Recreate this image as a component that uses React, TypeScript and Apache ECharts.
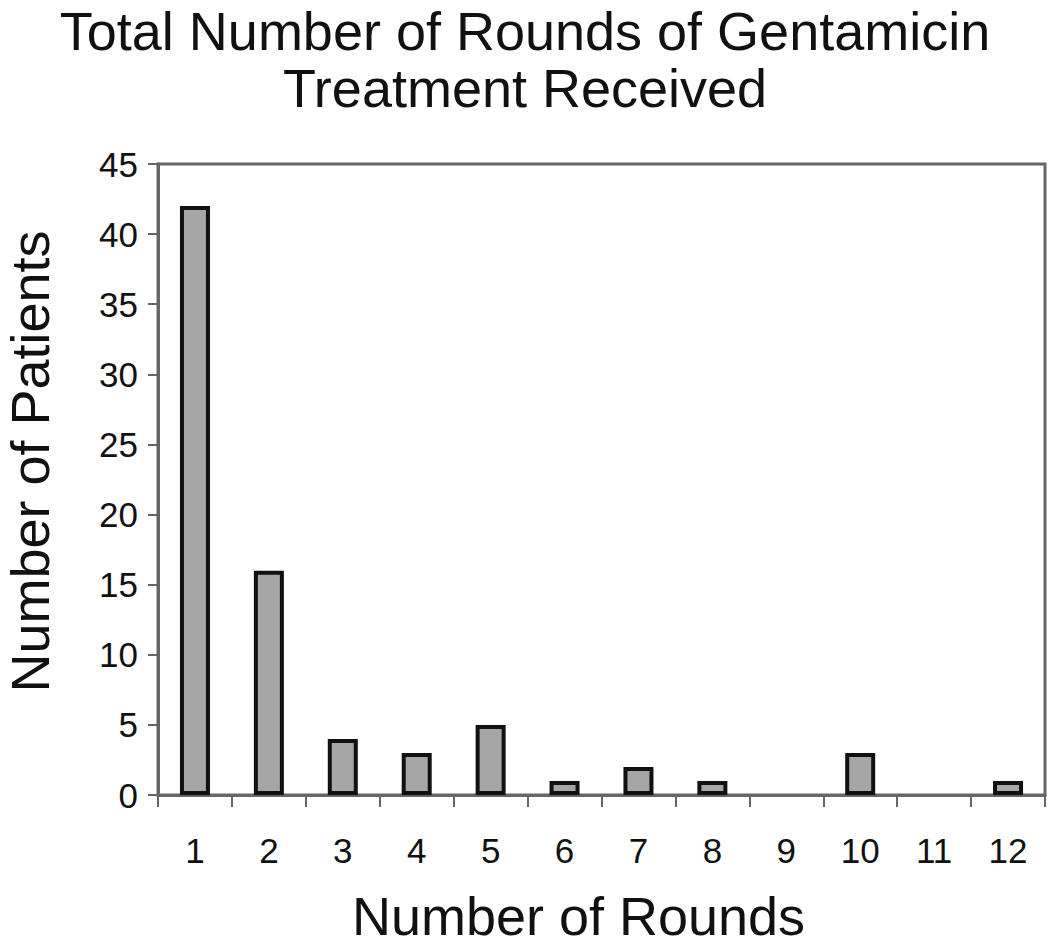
import React, { useEffect, useRef } from "react";
import * as echarts from "echarts";

const categories = ["1", "2", "3", "4", "5", "6", "7", "8", "9", "10", "11", "12"];
const patients = [42, 16, 4, 3, 5, 1, 2, 1, 0, 3, 0, 1];
const titleLines = ["Total Number of Rounds of Gentamicin", "Treatment Received"];
const xAxisTitle = "Number of Rounds";
const yAxisTitle = "Number of Patients";

export default function App() {
  const ref = useRef<HTMLDivElement>(null);
  useEffect(() => {
    if (!ref.current) return;
    const chart = echarts.init(ref.current, null, { renderer: "svg" });
    const font = "'Liberation Sans', Arial, sans-serif";
    const titleStyle = {
      fontFamily: font,
      fontSize: 54,
      lineHeight: 44,
      fontWeight: "normal",
      color: "#111",
    };
    chart.setOption({
      animation: false,
      backgroundColor: "#ffffff",
      title: [
        { text: titleLines[0], left: "center", top: 9, padding: [0, 0, 0, 20], textStyle: titleStyle },
        { text: titleLines[1], left: "center", top: 66, padding: [0, 0, 0, 20], textStyle: titleStyle },
      ],
      grid: {
        left: 158,
        right: 5,
        top: 164,
        bottom: 154,
        containLabel: false,
        outerBoundsMode: "none",
        show: true,
        borderColor: "#666",
        borderWidth: 3,
      },
      xAxis: {
        type: "category",
        data: categories,
        name: xAxisTitle,
        nameLocation: "middle",
        nameGap: 101,
        nameTextStyle: {
          fontFamily: font,
          fontSize: 54,
          lineHeight: 40,
          color: "#111",
          padding: [0, 46, 0, 0],
        },
        axisLine: { lineStyle: { color: "#666", width: 3 } },
        axisTick: { show: true, length: 12, lineStyle: { color: "#666", width: 2 } },
        axisLabel: { fontFamily: font, fontSize: 35, color: "#111", margin: 38 },
      },
      yAxis: {
        type: "value",
        min: 0,
        max: 45,
        interval: 5,
        name: yAxisTitle,
        nameLocation: "middle",
        nameGap: 108,
        nameTextStyle: {
          fontFamily: font,
          fontSize: 54,
          lineHeight: 40,
          color: "#111",
          padding: [0, 0, 0, 36],
        },
        axisLine: { show: true, lineStyle: { color: "#666", width: 3 } },
        axisTick: { show: true, length: 10, lineStyle: { color: "#666", width: 2 } },
        axisLabel: { fontFamily: font, fontSize: 35, color: "#111", margin: 20 },
        splitLine: { show: false },
      },
      series: [
        {
          type: "bar",
          data: patients.map((v) => (v === 0 ? { value: v, itemStyle: { borderWidth: 0 } } : v)),
          barWidth: 30,
          itemStyle: { color: "#a6a6a6", borderColor: "#111", borderWidth: 4 },
        },
      ],
    });
    return () => chart.dispose();
  }, []);
  return (
    <div
      ref={ref}
      style={{ position: "fixed", left: 0, top: 0, width: 1050, height: 949 }}
    />
  );
}
